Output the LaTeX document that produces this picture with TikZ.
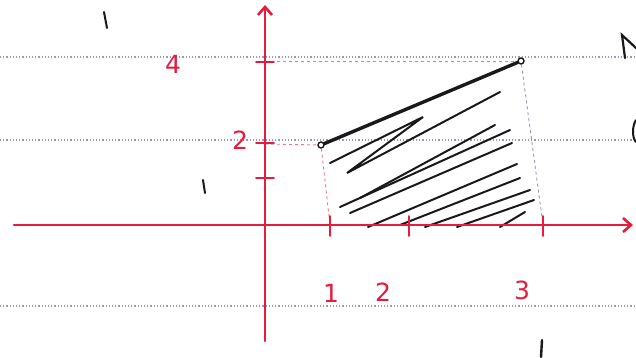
\documentclass[tikz,border=0pt]{standalone}
\usepackage{fontspec}
\setmainfont{DejaVu Sans}
\usetikzlibrary{arrows.meta}
\definecolor{pen}{RGB}{228,28,62}
\definecolor{ink}{RGB}{25,25,25}
\definecolor{rule}{RGB}{150,155,175}
\tikzset{
  ruling/.style={rule, line width=1.2pt, dash pattern=on 1.2pt off 2pt},
  axis/.style={pen, line width=2.6pt, line cap=round},
  tickmark/.style={pen, line width=1.8pt, line cap=round},
  guide/.style={pen!60, line width=0.9pt, dash pattern=on 3pt off 3pt},
  hatch/.style={ink, line width=2pt, line cap=round},
  seg/.style={ink, line width=3.4pt, line cap=round},
  lbl/.style={pen, font=\fontsize{25}{25}\selectfont, inner sep=0pt},
  dotpt/.style={circle, draw=ink, line width=1.4pt, fill=white, inner sep=0pt, minimum size=6pt}
}
\begin{document}
\begin{tikzpicture}[x=1pt, y=-1pt]
\useasboundingbox (0,0) rectangle (636,357);
\fill[white] (0,0) rectangle (636,357);
% ruled paper lines
\foreach \yy in {57,140,306} \draw[ruling] (0,\yy) -- (636,\yy);
% guides
\coordinate (g4) at (265,61);
\coordinate (g2) at (265,144);
\coordinate (f1) at (330,225);
\coordinate (f3) at (543,225);
% points
\node[dotpt] (A) at (321,145) {};
\node[dotpt] (B) at (521,61) {};
\draw[guide] (g4) -- (B);
\draw[guide] (g2) -- (A);
\draw[guide] (A) -- (f1);
\draw[guide, rule] (B) -- (f3);
% hatching
\draw[hatch] (330,163) -- (423,117) -- (347,173) -- (500,92);
\draw[hatch] (360,198) -- (495,125);
\draw[hatch] (340,207) -- (510,130);
\draw[hatch] (350,213) -- (512,143);
\draw[hatch] (368,227) -- (517,164);
\draw[hatch] (400,225) -- (520,178);
\draw[hatch] (425,227) -- (530,190);
\draw[hatch] (457,227) -- (534,200);
\draw[hatch] (500,227) -- (525,212);
% axes
\coordinate (xs) at (14,225);
\coordinate (xe) at (633,225);
\coordinate (ys) at (265,341);
\coordinate (ye) at (265,5);
\draw[axis, -{Straight Barb[length=8pt,width=14pt]}] (xs) -- (xe);
\draw[axis, -{Straight Barb[length=8pt,width=14pt]}] (ys) -- (ye);
% ticks
\foreach \yy in {62,143,178} \draw[tickmark] (256,\yy) -- (274,\yy);
\foreach \xx in {330,409,543} \draw[tickmark] (\xx,216) -- (\xx,236);
% segment
\draw[seg] (A) -- (B);
% labels
\node[lbl] (l4) at (173,64) {4};
\node[lbl] (l2y) at (240,140) {2};
\node[lbl] (lx1) at (331,293) {1};
\node[lbl] (lx2) at (383,292) {2};
\node[lbl] (lx3) at (522,290) {3};
% stray ink marks
\draw[ink, line width=2pt, line cap=round] (104,12) -- (107,28);
\draw[ink, line width=2pt, line cap=round] (203,180) -- (205,193);
\draw[ink, line width=2.2pt, line cap=round] (625,58) -- (622,35) -- (636,48);
\draw[ink, line width=2pt, line cap=round] (636,120) .. controls (632,126) and (632,138) .. (636,142);
\draw[ink, line width=2.4pt, line cap=round] (542,340) -- (541,357);
\end{tikzpicture}
\end{document}
